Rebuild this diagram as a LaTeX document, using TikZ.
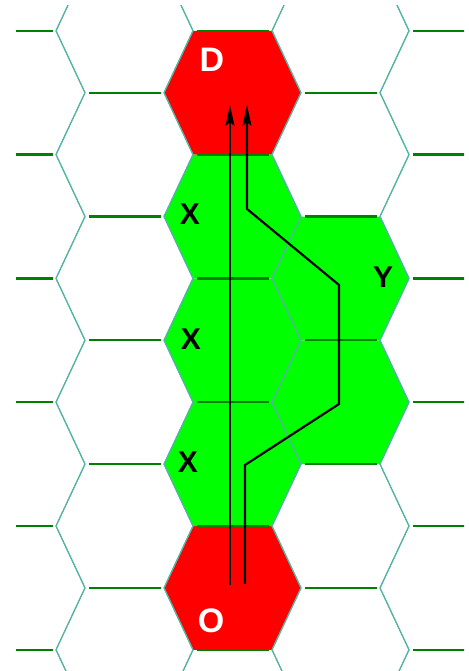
\documentclass[tikz,border=0pt]{standalone}
\usepackage{fontspec}
\setmainfont{Liberation Sans}
\usetikzlibrary{arrows.meta}
\definecolor{hexred}{RGB}{255,0,0}
\definecolor{hexgreen}{RGB}{0,255,0}
\definecolor{edgeteal}{RGB}{84,180,164}
\definecolor{edgegreen}{RGB}{0,128,0}
\newcommand{\HexFill}[3]{\fill[#3] (#1-39.5,#2-61.9) -- (#1+39.5,#2-61.9) -- (#1+68.5,#2) -- (#1+39.5,#2+61.9) -- (#1-39.5,#2+61.9) -- (#1-68.5,#2) -- cycle;}
\begin{document}
\begin{tikzpicture}[x=1pt,y=-1pt,
  slant/.style={draw=edgeteal,line width=1.1pt},
  hedge/.style={draw=edgegreen,line width=2.2pt},
  route/.style={draw=black,line width=2.2pt,-{Stealth[length=21pt,width=9pt,inset=4pt]}},
  lblw/.style={text=white,font=\fontsize{34}{34}\selectfont\bfseries,inner sep=0pt},
  lblb/.style={text=black,font=\fontsize{30}{30}\selectfont\bfseries,inner sep=0pt}]
\useasboundingbox (0,0) rectangle (468,671);
\fill[white] (0,0) rectangle (468,671);
% coloured cells
\HexFill{232.5}{92.7}{hexred}
\HexFill{232.5}{587.9}{hexred}
\HexFill{232.5}{216.5}{hexgreen}
\HexFill{232.5}{340.3}{hexgreen}
\HexFill{232.5}{464.1}{hexgreen}
\HexFill{340.5}{278.4}{hexgreen}
\HexFill{340.5}{402.2}{hexgreen}
% grid
\begin{scope}
\clip (16,6) rectangle (464,671);
\foreach \i in {0,...,4} {
  \pgfmathsetmacro\cx{16.5+108*\i}
  \pgfmathsetmacro\off{mod(\i,2)==0 ? 92.7 : 30.8}
  \foreach \k in {-1,...,5} {
    \pgfmathsetmacro\cy{\off+123.8*\k}
    \draw[slant] (\cx-39.5,\cy-61.9) -- (\cx-68.5,\cy) -- (\cx-39.5,\cy+61.9);
    \draw[slant] (\cx+39.5,\cy-61.9) -- (\cx+68.5,\cy) -- (\cx+39.5,\cy+61.9);
    \draw[hedge] (\cx-36,\cy-61.9) -- (\cx+36,\cy-61.9);
  }
}
\end{scope}
% labels
\node[lblw] (D) at (212,60) {D};
\node[lblw] (O) at (211,621) {O};
\node[lblb] (X1) at (190,214) {X};
\node[lblb] (X2) at (191,339) {X};
\node[lblb] (X3) at (188,462) {X};
\node[lblb] (Y) at (383,277) {Y};
% routes
\coordinate (a0) at (230,585);
\coordinate (a1) at (230,105);
\coordinate (b0) at (245,584);
\coordinate (b1) at (245,465);
\coordinate (b2) at (339,404);
\coordinate (b3) at (339,285);
\coordinate (b4) at (247,209);
\coordinate (b5) at (247,105);
\draw[route] (a0) -- (a1);
\draw[route] (b0) -- (b1) -- (b2) -- (b3) -- (b4) -- (b5);
\end{tikzpicture}
\end{document}
